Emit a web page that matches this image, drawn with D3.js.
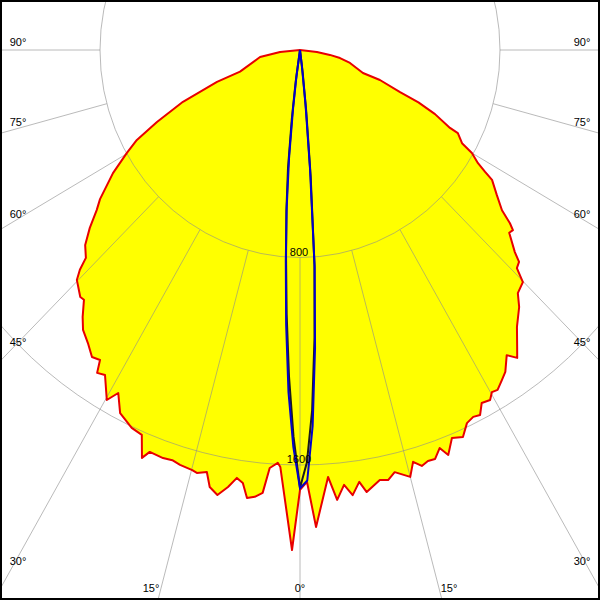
<!DOCTYPE html>
<html><head><meta charset="utf-8">
<script src="https://cdn.jsdelivr.net/npm/d3@7"></script>
<style>html,body{margin:0;padding:0;background:#fff}</style>
</head><body>
<svg id="chart" width="600" height="600"></svg>
<script>
// ---- data (angle in degrees from nadir, negative = left; intensity in cd) ----
const redAngles = [-90,-84.5,-80.4,-70.8,-69.7,-66.9,-64.1,-62.0,-60.2,-57.6,-54.3,-52.8,-50.8,-48.8,-46.9,-46.1,-45.2,-42.7,-41.9,-40.2,-38.8,-36.9,-35.1,-33.8,-33.1,-31.9,-29.8,-28.8,-27.2,-24.8,-23.1,-21.9,-21.2,-19.2,-17.9,-16.7,-14.9,-14.2,-12.9,-12.1,-10.9,-9.7,-8.7,-7.8,-7.0,-6.0,-5.0,-4.3,-3.2,-2.8,-0.95,0,0.96,2.0,3.9,4.9,6.0,7.0,8.1,8.9,10.9,12.0,13.1,15.0,15.9,16.9,17.9,18.9,20.0,20.8,22.1,23.6,24.9,26.1,27.1,28.1,29.4,30.2,31.1,32.4,33.5,35.1,36.2,37.1,39.1,41.5,42.9,44.9,45.9,47.0,47.8,49.9,50.8,51.5,52.6,54.6,56.9,57.6,58.5,60.0,61.0,63.1,63.4,65.4,66.9,67.9,70.1,70.6,76.0,79.0,81.0,83.5,90];
const redValues = [0,80,162,254,354,509,636,739,798,886,985,1021,1085,1142,1173,1222,1258,1296,1294,1347,1385,1413,1447,1438,1486,1476,1555,1509,1574,1605,1613,1695,1662,1666,1662,1670,1676,1682,1669,1723,1747,1709,1669,1685,1740,1732,1714,1616,1594,1610,1928,1696,1665,1840,1650,1741,1686,1729,1682,1725,1688,1695,1671,1704,1651,1676,1665,1667,1633,1670,1615,1628,1586,1575,1581,1543,1549,1526,1530,1507,1488,1438,1471,1440,1376,1323,1280,1263,1208,1198,1160,1094,1099,1073,1017,966,917,877,835,794,741,708,671,594,515,432,340,267,206,163,121,68,0];

const blueAngles = [-9,-8,-7,-6,-5,-4,-3,-2,-1,0,1,2,3,4,5,6,7,8];
const blueValues = [0,100,230,420,610,815,1060,1320,1530,1690,1660,1450,1150,840,460,210,60,0];

const blackAngles = [-9,-8,-7,-6,-5,-4,-3,-2,-1,0,1,2,3,4,5,6,7,8];
const blackValues = [0,125,270,460,625,800,1020,1260,1490,1688,1590,1390,1110,830,490,240,85,0];

const gridValues = [800, 1600];
const gridLabels = ["800", "1600"];
const spokeAngles = [-90,-75,-60,-45,-30,-15,0,15,30,45,60,75,90];
const angleLabels = ["90°","75°","60°","45°","30°","15°","0°","15°","30°","45°","60°","75°","90°"];

// ---- layout ----
const W = 600, H = 600, cx = 300, cy = 50;
const labelPos = [[18,42],[18,122],[18,214],[18,342],[18,561],[151,588],[300,588],[449,588],[582,561],[582,342],[582,214],[582,122],[582,42]];

const rX = d3.scaleLinear().domain([0, 800]).range([0, 200]);
const rY = d3.scaleLinear().domain([0, 800]).range([0, 207.5]);
const rad = d => d * Math.PI / 180;
const px = (a, v) => cx + rX(v) * Math.sin(rad(a));
const py = (a, v) => cy + rY(v) * Math.cos(rad(a));

const svg = d3.select("#chart");
svg.append("rect").attr("width", W).attr("height", H).attr("fill", "#fff");
svg.append("clipPath").attr("id", "frame").append("rect").attr("x", 0).attr("y", 0).attr("width", W).attr("height", H);
const g = svg.append("g").attr("clip-path", "url(#frame)");

const line = d3.line().x(d => px(d[0], d[1])).y(d => py(d[0], d[1]));
const redData = redAngles.map((a, i) => [a, redValues[i]]);
const blueData = blueAngles.map((a, i) => [a, blueValues[i]]);
const blackData = blackAngles.map((a, i) => [a, blackValues[i]]);

// yellow fill
g.append("path").attr("d", line(redData) + "Z").attr("fill", "#ffff00").attr("stroke", "none");

// grid
const grid = g.append("g").attr("stroke", "#8c8c8c").attr("stroke-opacity", 0.6).attr("fill", "none").attr("stroke-width", 1);
grid.selectAll("ellipse").data(gridValues).enter().append("ellipse")
  .attr("cx", cx).attr("cy", cy).attr("rx", d => rX(d)).attr("ry", d => rY(d));
grid.selectAll("line").data(spokeAngles).enter().append("line")
  .attr("x1", a => px(a, gridValues[0])).attr("y1", a => py(a, gridValues[0]))
  .attr("x2", a => px(a, 5000)).attr("y2", a => py(a, 5000));

// curves
g.append("path").attr("d", line(redData) + "Z").attr("fill", "none").attr("stroke", "#e80000").attr("stroke-width", 2).attr("stroke-linejoin", "round");
g.append("path").attr("d", line(blackData)).attr("fill", "none").attr("stroke", "#1a1a1a").attr("stroke-width", 2);
g.append("path").attr("d", line(blueData)).attr("fill", "none").attr("stroke", "#0000cc").attr("stroke-width", 2);

// labels
const font = "'Liberation Sans', Arial, sans-serif";
svg.append("g").selectAll("text").data(gridValues).enter().append("text")
  .attr("x", cx - 1).attr("y", v => cy + rY(v) - 2)
  .attr("text-anchor", "middle").attr("font-family", font).attr("font-size", 11).attr("fill", "#000")
  .text((v, i) => gridLabels[i]);
svg.append("g").selectAll("text").data(angleLabels).enter().append("text")
  .attr("x", (d, i) => labelPos[i][0]).attr("y", (d, i) => labelPos[i][1])
  .attr("dy", "0.35em").attr("text-anchor", "middle").attr("font-family", font).attr("font-size", 11).attr("fill", "#000")
  .text(d => d);

// frame
svg.append("rect").attr("x", 1).attr("y", 1).attr("width", W - 2).attr("height", H - 2)
  .attr("fill", "none").attr("stroke", "#000").attr("stroke-width", 2);
</script>
</body></html>
